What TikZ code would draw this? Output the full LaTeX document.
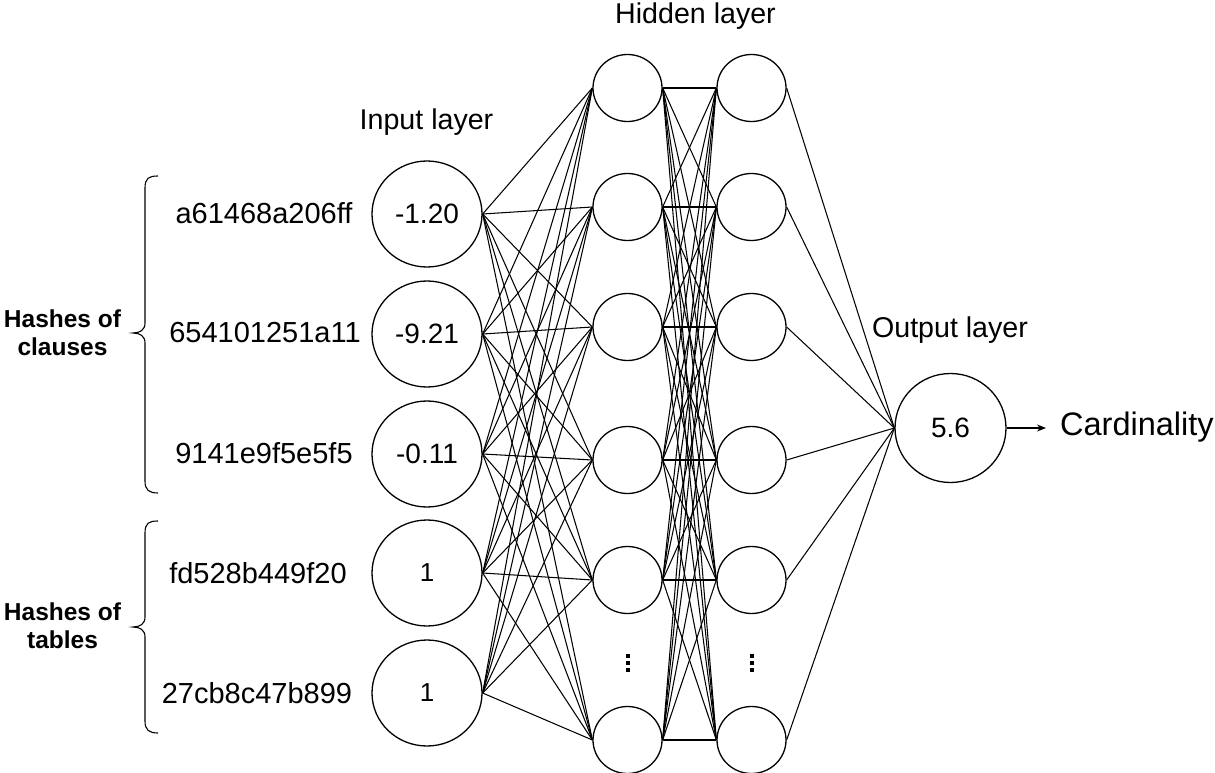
\documentclass[tikz,border=0pt]{standalone}
\usepackage{fontspec}
\setmainfont{Liberation Sans}
\usetikzlibrary{shapes.geometric,arrows.meta}
\begin{document}
\begin{tikzpicture}[x=1pt,y=-1pt,
  neuron/.style={draw,ellipse,line width=1.3pt,inner sep=0pt},
  inp/.style={neuron,minimum width=110pt,minimum height=106pt},
  hid/.style={neuron,minimum width=69pt,minimum height=67pt},
  outn/.style={neuron,minimum width=111pt,minimum height=109pt},
  conn/.style={line width=1.05pt},
  hashlbl/.style={font=\fontsize{29}{34}\selectfont,inner sep=0pt},
  layerlbl/.style={font=\fontsize{28.6}{34}\selectfont,anchor=base,inner sep=0pt},
  grouplbl/.style={font=\fontsize{24.5}{28}\selectfont\bfseries,align=center,inner sep=0pt},
  val/.style={font=\fontsize{28}{32}\selectfont},
  smallval/.style={font=\fontsize{26}{30}\selectfont},
  brace/.style={line width=1.1pt},
  dotmark/.style={fill=black},
]
\useasboundingbox (0,0) rectangle (1215,773);

% input layer
\node[inp,val] (i1) at (427,214) {-1.20};
\node[inp,val] (i2) at (427,334) {-9.21};
\node[inp,val] (i3) at (427,454) {-0.11};
\node[inp,smallval] (i4) at (427,573) {1};
\node[inp,smallval] (i5) at (427,693) {1};

% hidden layers
\foreach \n/\y in {1/88,2/207,3/327,4/460,5/580,6/740}{
  \node[hid] (h\n) at (627.5,\y) {};
  \node[hid] (g\n) at (751.5,\y) {};
}

% output
\node[outn,val] (o) at (950.5,428) {5.6};

% dots
\foreach \x in {627.5,751.5}{
  \fill[dotmark] (\x-2,654) rectangle (\x+2,658);
  \fill[dotmark] (\x-2,661) rectangle (\x+2,665);
  \fill[dotmark] (\x-2,668) rectangle (\x+2,672);
}

% connections
\foreach \a in {1,...,5}{
  \foreach \b in {1,...,6}{
    \draw[conn] (i\a.east) -- (h\b.west);
  }
}
\foreach \a in {1,...,6}{
  \foreach \b in {1,...,6}{
    \draw[conn] (h\a.east) -- (g\b.west);
  }
}
\foreach \a in {1,...,6}{
  \draw[conn] (g\a.east) -- (o.west);
}

% result
\node[font=\fontsize{32.5}{36}\selectfont,anchor=base west,inner sep=0pt] (card) at (1060,435) {Cardinality};
\draw[conn,-{Stealth[length=9pt,width=7pt]}] (o.east) -- ([xshift=-14pt]o.east -| card.west);

% layer labels
\node[layerlbl] (lin) at (426.5,130) {Input layer};
\node[layerlbl] (lhid) at (695.5,24) {Hidden layer};
\node[layerlbl] (lout) at (950,337) {Output layer};

% hash labels
\node[hashlbl] (t1) at (264,213) {a61468a206ff};
\node[hashlbl] (t2) at (265,333) {654101251a11};
\node[hashlbl] (t3) at (264,453) {9141e9f5e5f5};
\node[hashlbl] (t4) at (258,573) {fd528b449f20};
\node[hashlbl] (t5) at (257,693) {27cb8c47b899};

% groups
\node[grouplbl] (gc) at (62.5,333) {Hashes of\\clauses};
\node[grouplbl] (gt) at (62.5,626) {Hashes of\\tables};

\draw[brace] (158,176) .. controls (149,176) and (145,178) .. (145,188)
  -- (145,323) .. controls (145,330) and (140,333) .. (133,333)
  .. controls (140,333) and (145,336) .. (145,343)
  -- (145,481) .. controls (145,490) and (149,493) .. (158,493);
\draw[brace] (158,521) .. controls (149,521) and (145,523) .. (145,533)
  -- (145,617) .. controls (145,624) and (140,627) .. (133,627)
  .. controls (140,627) and (145,630) .. (145,637)
  -- (145,721) .. controls (145,730) and (149,733) .. (158,733);
\end{tikzpicture}
\end{document}
